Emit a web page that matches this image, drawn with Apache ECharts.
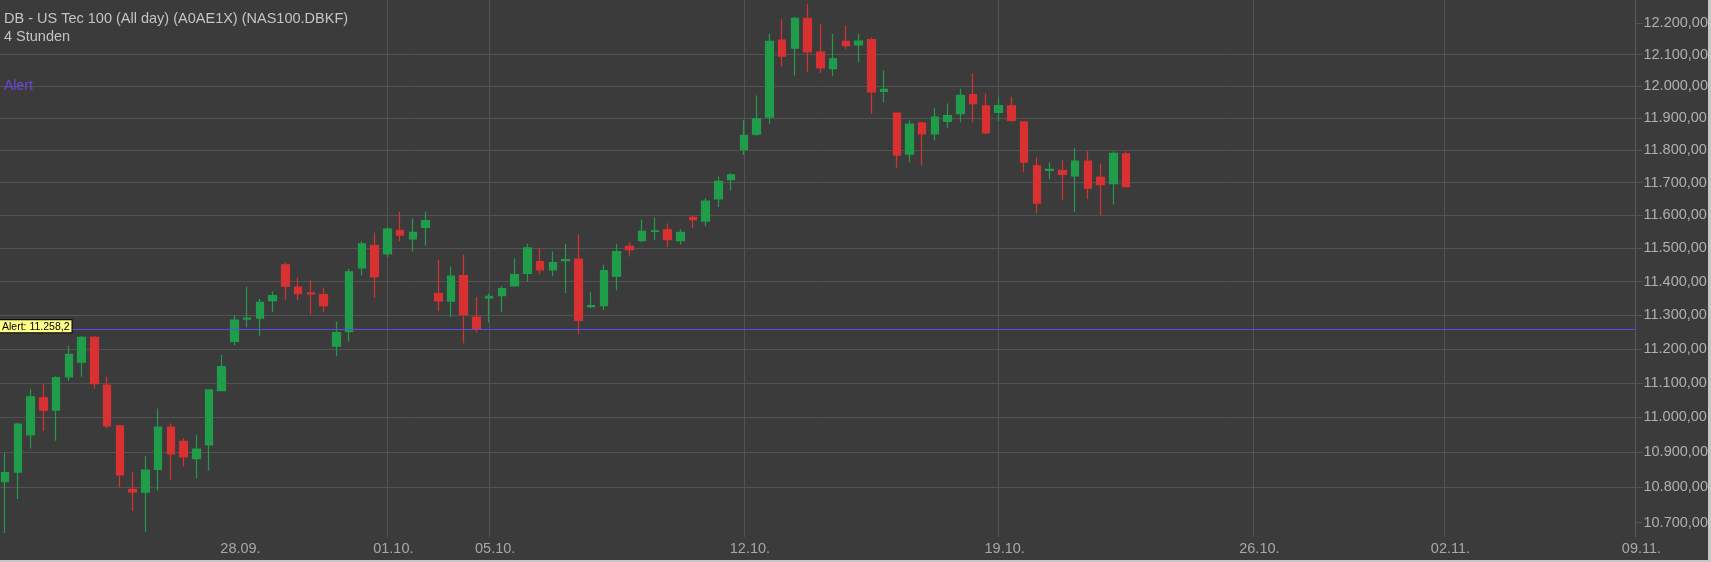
<!DOCTYPE html>
<html>
<head>
<meta charset="utf-8">
<script src="https://cdn.jsdelivr.net/npm/echarts@6/dist/echarts.min.js"></script>
<style>
html,body{margin:0;padding:0;background:#3b3b3b;}
#chart{width:1711px;height:562px;}
</style>
</head>
<body>
<div id="chart"></div>
<script>
// ---- DATA (4-hour candles, index = slot on the time axis) ----
const opens  = [10816,10843,10950,11057,11021,11118,11161,11234,11094,10976,10794,10786,10851,10972,10931,10882,10921,11078,
  11222,11288,11291,11343,11450,11383,11366,11361,11208,11251,11441,11508,11483,11554,11528,11563,11364,11341,11418,11294,
  11351,11358,11387,11424,11460,11435,11463,11467,11325,11328,11416,11506,11523,11551,11556,11523,11594,11582,11650,11709,
  11802,11850,11903,12146,12121,12216,12108,12056,12142,12131,12148,11984,11916,11788,11885,11851,11890,11914,11974,11938,
  11918,11938,11888,11752,11738,11738,11721,11766,11716,11697,11789];
const closes = [10842,10981,11060,11021,11116,11184,11234,11098,10976,10835,10787,10849,10972,10895,10887,10909,11080,11148,
  11285,11291,11338,11358,11386,11364,11363,11328,11248,11429,11513,11414,11558,11540,11548,11584,11342,11416,11301,11258,
  11356,11379,11421,11501,11435,11457,11466,11284,11328,11433,11490,11496,11551,11553,11526,11548,11587,11643,11704,11724,
  11846,11898,12142,12095,12216,12109,12058,12087,12129,12143,11982,11990,11785,11881,11851,11903,11908,11971,11945,11854,
  11939,11893,11763,11637,11741,11725,11766,11683,11694,11790,11687.5];
const lows   = [10671,10767,10911,10961,10933,11106,11118,11084,10969,10800,10733,10675,10791,10821,10859,10826,10847,11076,
  11211,11264,11239,11308,11346,11344,11301,11308,11178,11221,11418,11351,11474,11521,11491,11508,11311,11294,11216,11248,
  11278,11308,11384,11399,11422,11416,11366,11244,11321,11315,11374,11475,11518,11524,11503,11511,11561,11567,11625,11676,
  11785,11845,11882,12061,12034,12046,12042,12032,12118,12076,11914,11950,11746,11763,11753,11830,11869,11887,11887,11850,
  11891,11887,11732,11606,11711,11647,11611,11649,11601,11632,11686];
const highs  = [10899,10985,11082,11099,11120,11209,11238,11238,11118,10978,10844,10889,11026,10983,10940,10950,11082,11182,
  11299,11384,11348,11371,11456,11411,11404,11381,11281,11438,11521,11548,11564,11611,11591,11611,11466,11444,11481,11354,
  11364,11386,11470,11514,11501,11490,11514,11541,11369,11450,11513,11518,11587,11594,11575,11558,11599,11653,11719,11729,
  11893,11971,12167,12213,12221,12263,12198,12166,12193,12167,12155,12050,11918,11893,11887,11932,11946,11992,12040,11978,
  11967,11967,11888,11779,11763,11769,11807,11797,11759,11797,11797];

const dateTickIdx    = [18, 30, 38, 58, 78, 98, 113, 128];
const dateTickLabels = ['28.09.', '01.10.', '05.10.', '12.10.', '19.10.', '26.10.', '02.11.', '09.11.'];
const priceTicks = [10700, 10800, 10900, 11000, 11100, 11200, 11300, 11400, 11500, 11600, 11700, 11800, 11900, 12000, 12100, 12200];
const lastPrice = 11687.5;
const alertLevel = 11258.2;

const titleText = 'DB - US Tec 100 (All day) (A0AE1X) (NAS100.DBKF)';
const periodText = '4 Stunden';

// ---- build ----
function deNum(v, dec) {
  const s = v.toFixed(dec);
  const parts = s.split('.');
  const int = parts[0].replace(/\B(?=(\d{3})+(?!\d))/g, '.');
  return dec > 0 ? int + ',' + parts[1] : int;
}

const candles = opens.map((o, i) => [i, o, closes[i], lows[i], highs[i]]);

const FONT = '"Liberation Sans", Arial, sans-serif';
const UP = '#1f9d4a';
const DOWN = '#d93131';
const GRIDC = '#535353';

const chart = echarts.init(document.getElementById('chart'), null, {renderer: 'canvas'});
chart.setOption({
  animation: false,
  backgroundColor: '#3b3b3b',
  title: [
    {text: titleText, left: 4, top: 11, padding: 0,
     textStyle: {color: '#c4c4c4', fontSize: 14.5, fontWeight: 'normal', fontFamily: FONT, lineHeight: 16}},
    {text: periodText, left: 4, top: 29, padding: 0,
     textStyle: {color: '#c4c4c4', fontSize: 14.5, fontWeight: 'normal', fontFamily: FONT, lineHeight: 16}},
    {text: 'Alert', left: 4, top: 78, padding: 0,
     textStyle: {color: '#6a45e0', fontSize: 14, fontWeight: 'normal', fontFamily: FONT, lineHeight: 16}}
  ],
  grid: {left: 0, right: 63.4, top: 0, bottom: 25},
  xAxis: {
    type: 'value',
    min: -0.41,
    max: 128,
    axisLine: {show: false, onZero: false},
    axisTick: {show: false, customValues: dateTickIdx},
    splitLine: {show: true, showMinLine: false, lineStyle: {color: GRIDC, width: 1}},
    axisLabel: {
      customValues: dateTickIdx,
      color: '#a8a8a8', fontSize: 14.5, fontFamily: FONT, margin: 4,
      padding: [0, 0, 0, 12],
      formatter: function (v) {
        const k = dateTickIdx.indexOf(Math.round(v));
        return k >= 0 ? dateTickLabels[k] : '';
      }
    }
  },
  yAxis: {
    type: 'log',
    logBase: 10,
    position: 'right',
    min: 10660,
    max: 12275,
    axisLine: {show: true, onZero: false, lineStyle: {color: '#5a5a5a'}},
    axisTick: {show: true, length: 7, customValues: priceTicks, lineStyle: {color: GRIDC}},
    splitLine: {show: true, showMinLine: false, showMaxLine: false, lineStyle: {color: GRIDC, width: 1}},
    axisLabel: {
      customValues: priceTicks,
      color: '#b0b0b0', fontSize: 14.5, fontFamily: FONT, margin: 8,
      formatter: function (v) { return deNum(v, 2); }
    }
  },
  series: [{
    type: 'candlestick',
    data: candles,
    encode: {x: 0, y: [1, 2, 3, 4]},
    barWidth: 8,
    clip: true,
    itemStyle: {color: UP, color0: DOWN, borderColor: UP, borderColor0: DOWN, borderWidth: 1.2},
    markLine: {
      silent: true,
      symbol: ['none', 'none'],
      animation: false,
      data: [
        {yAxis: alertLevel,
         lineStyle: {color: '#5b4ee8', width: 1.2, type: 'solid'},
         label: {show: true, position: 'insideStartTop', distance: [0, -3],
                 formatter: 'Alert: ' + deNum(alertLevel, 1),
                 color: '#000', fontSize: 10.5, fontFamily: FONT,
                 backgroundColor: '#ffff88', borderColor: '#000', borderWidth: 1, padding: [1, 2, 0, 2]}},
        {yAxis: lastPrice,
         lineStyle: {opacity: 0},
         label: {show: true, position: 'end', distance: 7,
                 formatter: deNum(lastPrice, 2),
                 color: '#000', fontSize: 14.5, fontFamily: FONT,
                 backgroundColor: '#ffff00', borderColor: '#000', borderWidth: 1, padding: [1, 2, 0, 2]}}
      ]
    }
  }],
  graphic: [
    {type: 'rect', shape: {x: 1708, y: 0, width: 3, height: 562}, style: {fill: '#c6c6c6'}, silent: true},
    {type: 'rect', shape: {x: 0, y: 560, width: 1711, height: 2}, style: {fill: '#c6c6c6'}, silent: true}
  ]
});
</script>
</body>
</html>
